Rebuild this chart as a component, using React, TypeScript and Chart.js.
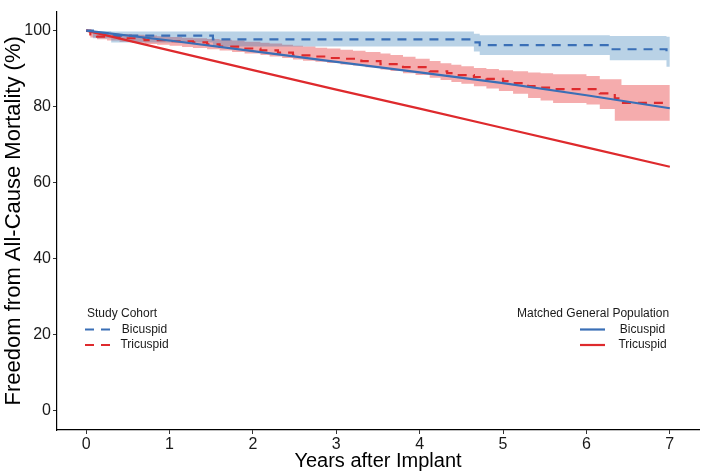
import React, { useEffect, useRef } from 'react';
import { Chart, registerables } from 'chart.js';

Chart.register(...registerables);

// ---- Axis ticks ----
const X_TICKS = [0, 1, 2, 3, 4, 5, 6, 7];
const Y_TICKS = [0, 20, 40, 60, 80, 100];

// ---- Matched general population (expected survival) ----
const GEN_YEARS = [0, 1, 2, 3, 4, 5, 6, 7];
const GEN_BICUSPID = [100, 97.4, 94.6, 91.8, 89.0, 86.2, 83.0, 79.6];
const GEN_TRICUSPID = [100, 94.8, 89.6, 84.5, 79.5, 74.4, 69.3, 64.2];

// ---- Study cohort: Bicuspid (Kaplan-Meier, with CI) ----
const BI_T = [0, 0.08, 0.3, 1.52, 4.65, 4.72, 6.28, 6.96, 7];
const BI_S = [100, 99.3, 98.7, 97.7, 96.9, 96.2, 95.1, 94.4, 94.4];
const BI_UP = [100, 99.9, 99.8, 99.8, 99.2, 98.8, 98.6, 98.4, 98.4];
const BI_LO = [100, 98.0, 96.9, 95.8, 94.5, 93.6, 92.2, 90.5, 90.5];

// ---- Study cohort: Tricuspid (Kaplan-Meier estimate) ----
const TRI_T = [0, 0.05, 0.13, 0.4, 0.7, 1.0, 1.28, 1.45, 1.6, 1.85, 2.09, 2.3, 2.48, 2.7, 2.89, 3.05, 3.3, 3.53, 3.8, 4.12, 4.33, 4.45, 4.65, 4.8, 5.0, 5.12, 5.3, 5.45, 5.6, 6.16, 6.34, 6.42, 7];
const TRI_S = [100, 99.0, 98.4, 98.0, 97.5, 97.2, 96.9, 96.4, 95.8, 95.3, 94.8, 94.2, 93.5, 93.2, 92.8, 92.6, 92.0, 91.2, 90.4, 89.3, 88.8, 88.3, 87.8, 87.3, 86.7, 86.2, 85.4, 85.0, 84.6, 83.5, 82.2, 81.0, 81.0];

// ---- Study cohort: Tricuspid confidence band ----
const TRI_BAND_T = [0, 0.05, 0.13, 0.25, 0.4, 0.55, 0.7, 0.85, 1.0, 1.15, 1.28, 1.45, 1.6, 1.75, 1.9, 2.09, 2.2, 2.35, 2.48, 2.6, 2.75, 2.89, 3.05, 3.2, 3.35, 3.53, 3.65, 3.8, 3.95, 4.12, 4.25, 4.38, 4.5, 4.65, 4.8, 4.95, 5.12, 5.3, 5.45, 5.6, 6.0, 6.16, 6.34, 6.42, 7];
const TRI_UP = [100, 99.8, 99.5, 99.3, 99.1, 98.9, 98.7, 98.5, 98.3, 98.1, 98.0, 97.8, 97.6, 97.4, 97.1, 96.8, 96.6, 96.3, 96.0, 95.8, 95.5, 95.3, 95.0, 94.7, 94.4, 94.0, 93.6, 93.1, 92.6, 92.0, 91.4, 91.0, 90.6, 90.2, 89.9, 89.6, 89.3, 89.0, 88.8, 88.5, 88.1, 87.2, 87.2, 85.7, 85.7];
const TRI_LO = [100, 98.2, 97.7, 97.4, 97.1, 96.8, 96.5, 96.3, 96.0, 95.7, 95.4, 95.1, 94.8, 94.4, 94.0, 93.6, 93.2, 92.8, 92.4, 92.1, 91.8, 91.5, 91.1, 90.8, 90.4, 89.8, 89.4, 88.8, 88.3, 87.6, 87.0, 86.5, 86.0, 85.4, 84.8, 84.1, 83.4, 82.3, 81.6, 81.0, 80.6, 79.4, 76.3, 76.3, 76.3];

// ---- Text ----
const X_TITLE = 'Years after Implant';
const Y_TITLE = 'Freedom from All-Cause Mortality (%)';
const LEGEND_STUDY_TITLE = 'Study Cohort';
const LEGEND_GEN_TITLE = 'Matched General Population';
const GROUP_LABELS = ['Bicuspid', 'Tricuspid'];

// ---- Styles ----
const BLUE = '#3A6FB6';
const RED = '#DE2A2D';
const BLUE_BAND = 'rgba(55,126,184,0.35)';
const RED_BAND = 'rgba(228,26,28,0.36)';
const GROUP_COLORS = [BLUE, RED];
const FONT = '"Liberation Sans", Arial, Helvetica, sans-serif';
const DASH = [9, 7];

const pts = (xs: number[], ys: number[]) => xs.map((x, i) => ({ x, y: ys[i] }));

const legendPlugin = {
  id: 'customLegends',
  afterDraw(chart: any) {
    const ctx = chart.ctx as CanvasRenderingContext2D;
    ctx.save();
    ctx.font = `12px ${FONT}`;
    ctx.fillStyle = '#1a1a1a';
    ctx.textBaseline = 'middle';
    // Study cohort legend (left)
    ctx.textAlign = 'left';
    ctx.fillText(LEGEND_STUDY_TITLE, 87, 314);
    GROUP_LABELS.forEach((lab, i) => {
      const y = 329.5 + i * 15.5;
      ctx.strokeStyle = GROUP_COLORS[i];
      ctx.lineWidth = 2.2;
      ctx.setLineDash(DASH);
      ctx.beginPath();
      ctx.moveTo(85, y);
      ctx.lineTo(111, y);
      ctx.stroke();
      ctx.setLineDash([]);
      ctx.textAlign = 'center';
      ctx.fillText(lab, 144.5, y);
    });
    // General population legend (right)
    ctx.textAlign = 'left';
    ctx.fillText(LEGEND_GEN_TITLE, 517, 314);
    GROUP_LABELS.forEach((lab, i) => {
      const y = 329.5 + i * 15.5;
      ctx.strokeStyle = GROUP_COLORS[i];
      ctx.lineWidth = 2.2;
      ctx.setLineDash([]);
      ctx.beginPath();
      ctx.moveTo(580, y);
      ctx.lineTo(605, y);
      ctx.stroke();
      ctx.textAlign = 'center';
      ctx.fillText(lab, 642.5, y);
    });
    ctx.restore();
  },
};

export default function App() {
  const ref = useRef<HTMLCanvasElement | null>(null);

  useEffect(() => {
    if (!ref.current) return;
    const bandBase = { pointRadius: 0, borderWidth: 0, stepped: 'before' as const, borderColor: 'rgba(0,0,0,0)' };
    const chart = new Chart(ref.current, {
      type: 'line',
      data: {
        datasets: [
          // lines on top
          { label: 'Gen Bicuspid', data: pts(GEN_YEARS, GEN_BICUSPID), borderColor: BLUE, borderWidth: 2.2, pointRadius: 0, fill: false, tension: 0 },
          { label: 'Gen Tricuspid', data: pts(GEN_YEARS, GEN_TRICUSPID), borderColor: RED, borderWidth: 2.2, pointRadius: 0, fill: false, tension: 0 },
          { label: 'Study Bicuspid', data: pts(BI_T, BI_S), borderColor: BLUE, borderWidth: 2.2, borderDash: DASH, pointRadius: 0, fill: false, stepped: 'before' },
          { label: 'Study Tricuspid', data: pts(TRI_T, TRI_S), borderColor: RED, borderWidth: 2.2, borderDash: DASH, pointRadius: 0, fill: false, stepped: 'before' },
          // bands
          { label: 'Bi upper', data: pts(BI_T, BI_UP), ...bandBase, backgroundColor: BLUE_BAND, fill: '+1' },
          { label: 'Bi lower', data: pts(BI_T, BI_LO), ...bandBase, fill: false },
          { label: 'Tri upper', data: pts(TRI_BAND_T, TRI_UP), ...bandBase, backgroundColor: RED_BAND, fill: '+1' },
          { label: 'Tri lower', data: pts(TRI_BAND_T, TRI_LO), ...bandBase, fill: false },
        ],
      },
      options: {
        animation: false,
        responsive: false,
        maintainAspectRatio: false,
        devicePixelRatio: 1,
        layout: { padding: { top: 4, right: 6, left: 0, bottom: 0 } },
        plugins: {
          legend: { display: false },
          tooltip: { enabled: false },
          filler: { drawTime: 'beforeDatasetsDraw' },
        },
        scales: {
          x: {
            type: 'linear',
            min: -0.35,
            max: 7.35,
            afterBuildTicks: (s: any) => { s.ticks = X_TICKS.map((v) => ({ value: v })); },
            afterFit: (s: any) => { s.height = 45; },
            ticks: { font: { family: FONT, size: 16 }, color: '#1a1a1a', padding: 1, maxRotation: 0 },
            grid: { display: true, drawOnChartArea: false, drawTicks: true, tickLength: 4, color: '#333', tickWidth: 1 },
            border: { display: true, color: '#000', width: 1.2 },
            title: { display: true, text: X_TITLE, font: { family: FONT, size: 20 }, color: '#000', padding: { top: 0, bottom: 2 } },
          },
          y: {
            type: 'linear',
            min: -5,
            max: 105,
            afterBuildTicks: (s: any) => { s.ticks = Y_TICKS.map((v) => ({ value: v })); },
            afterFit: (s: any) => { s.width = 57; },
            ticks: { font: { family: FONT, size: 16 }, color: '#1a1a1a', padding: 2 },
            grid: { display: true, drawOnChartArea: false, drawTicks: true, tickLength: 4, color: '#333', tickWidth: 1 },
            border: { display: true, color: '#000', width: 1.2 },
            title: { display: true, text: Y_TITLE, font: { family: FONT, size: 22 }, color: '#000', padding: { top: 0.5, bottom: 0 } },
          },
        },
      },
      plugins: [legendPlugin],
    } as any);
    return () => chart.destroy();
  }, []);

  return (
    <div style={{ position: 'absolute', left: 0, top: 0, width: 705, height: 475, background: '#fff' }}>
      <canvas ref={ref} width={705} height={475} style={{ display: 'block', width: 705, height: 475 }} />
    </div>
  );
}
